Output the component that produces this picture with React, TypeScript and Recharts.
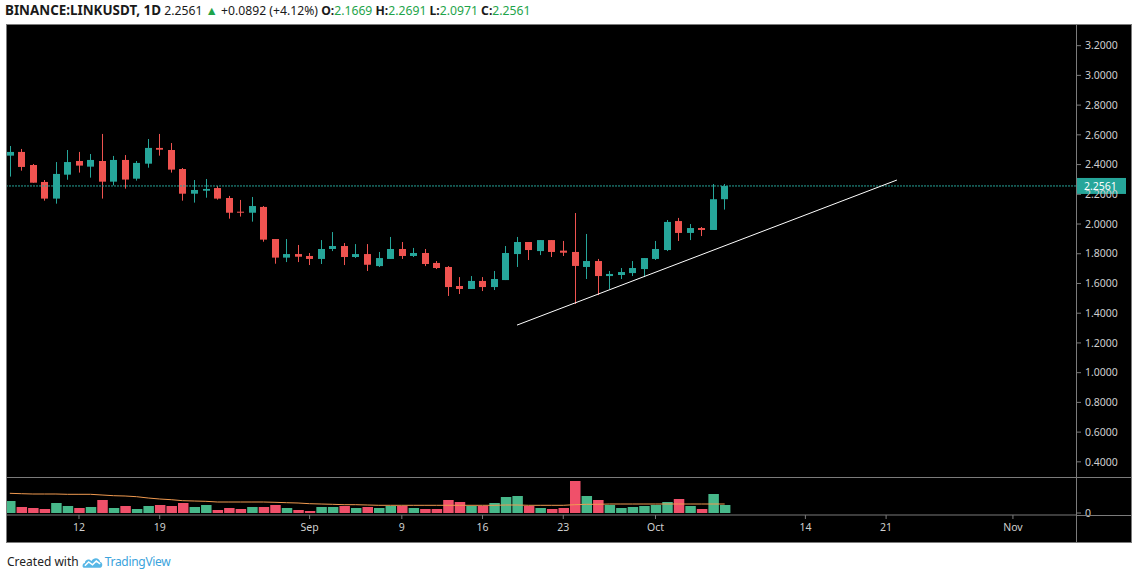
import { ComposedChart, Bar, Line, XAxis, YAxis, ReferenceLine, Cell } from 'recharts';

// daily candles, Aug 6 .. Oct 7 (x = day index)
const dates = [
  'Aug 6', 'Aug 7', 'Aug 8', 'Aug 9', 'Aug 10', 'Aug 11', 'Aug 12', 'Aug 13', 'Aug 14', 'Aug 15',
  'Aug 16', 'Aug 17', 'Aug 18', 'Aug 19', 'Aug 20', 'Aug 21', 'Aug 22', 'Aug 23', 'Aug 24', 'Aug 25',
  'Aug 26', 'Aug 27', 'Aug 28', 'Aug 29', 'Aug 30', 'Aug 31', 'Sep 1', 'Sep 2', 'Sep 3', 'Sep 4',
  'Sep 5', 'Sep 6', 'Sep 7', 'Sep 8', 'Sep 9', 'Sep 10', 'Sep 11', 'Sep 12', 'Sep 13', 'Sep 14',
  'Sep 15', 'Sep 16', 'Sep 17', 'Sep 18', 'Sep 19', 'Sep 20', 'Sep 21', 'Sep 22', 'Sep 23', 'Sep 24',
  'Sep 25', 'Sep 26', 'Sep 27', 'Sep 28', 'Sep 29', 'Sep 30', 'Oct 1', 'Oct 2', 'Oct 3', 'Oct 4',
  'Oct 5', 'Oct 6', 'Oct 7',
];
const opens = [
  2.460, 2.485, 2.397, 2.283, 2.171, 2.332, 2.424, 2.386, 2.424, 2.285,
  2.431, 2.305, 2.406, 2.512, 2.498, 2.370, 2.204, 2.224, 2.242, 2.175,
  2.083, 2.076, 2.115, 1.899, 1.774, 1.798, 1.785, 1.765, 1.832, 1.852,
  1.778, 1.798, 1.717, 1.765, 1.832, 1.785, 1.805, 1.738, 1.711, 1.583,
  1.563, 1.617, 1.576, 1.623, 1.798, 1.879, 1.818, 1.892, 1.821, 1.812,
  1.711, 1.751, 1.650, 1.657, 1.670, 1.697, 1.765, 1.825, 2.020, 1.940,
  1.973, 1.960, 2.1669,
];
const highs = [
  2.525, 2.505, 2.404, 2.296, 2.417, 2.498, 2.485, 2.471, 2.606, 2.458,
  2.464, 2.424, 2.572, 2.606, 2.545, 2.377, 2.296, 2.303, 2.256, 2.189,
  2.162, 2.182, 2.121, 1.899, 1.899, 1.859, 1.805, 1.892, 1.946, 1.872,
  1.865, 1.865, 1.812, 1.913, 1.879, 1.839, 1.832, 1.751, 1.717, 1.643,
  1.650, 1.643, 1.684, 1.852, 1.913, 1.879, 1.892, 1.892, 1.886, 2.074,
  1.933, 1.765, 1.684, 1.704, 1.751, 1.771, 1.886, 2.027, 2.041, 2.000,
  1.980, 2.269, 2.2691,
];
const lows = [
  2.319, 2.359, 2.278, 2.157, 2.137, 2.298, 2.346, 2.312, 2.171, 2.260,
  2.238, 2.292, 2.379, 2.460, 2.346, 2.157, 2.144, 2.177, 2.164, 2.036,
  2.050, 2.016, 1.881, 1.733, 1.744, 1.744, 1.724, 1.731, 1.818, 1.724,
  1.771, 1.684, 1.711, 1.765, 1.765, 1.778, 1.717, 1.697, 1.516, 1.529,
  1.563, 1.549, 1.556, 1.623, 1.711, 1.758, 1.791, 1.778, 1.785, 1.462,
  1.630, 1.522, 1.563, 1.630, 1.650, 1.643, 1.758, 1.818, 1.886, 1.892,
  1.919, 1.960, 2.0971,
];
const closes = [
  2.485, 2.384, 2.278, 2.171, 2.337, 2.417, 2.393, 2.431, 2.285, 2.431,
  2.299, 2.411, 2.512, 2.500, 2.366, 2.204, 2.229, 2.236, 2.171, 2.076,
  2.076, 2.121, 1.895, 1.774, 1.798, 1.780, 1.765, 1.832, 1.852, 1.778,
  1.798, 1.726, 1.771, 1.832, 1.785, 1.805, 1.731, 1.704, 1.576, 1.563,
  1.617, 1.576, 1.630, 1.805, 1.879, 1.825, 1.892, 1.812, 1.807, 1.718,
  1.751, 1.650, 1.664, 1.677, 1.704, 1.771, 1.832, 2.014, 1.940, 1.973,
  1.960, 2.1669, 2.2561,
];
// volume in millions of LINK, and its moving average
const volumes = [
  12, 6, 5, 4, 10, 7, 5, 6, 13, 5,
  7, 4, 7, 8, 7, 10, 6, 8, 3, 5,
  4, 6, 6, 8, 5, 3, 2, 6, 6, 7,
  5, 6, 5, 7, 7, 5, 4, 4, 13, 11,
  7, 7, 10, 16, 17, 7, 5, 4, 5, 32,
  17, 13, 8, 5, 6, 7, 8, 11, 14, 7,
  4, 19, 8,
];
const volumeMA = [
  19.7, 19.3, 19, 19, 19, 18.7, 18.7, 18.7, 18, 17.3,
  17, 16.3, 15, 14, 13.3, 12.3, 12, 11.7, 11, 11,
  11, 11, 11, 10.7, 10.3, 10, 9.3, 9, 8.7, 8.3,
  8.3, 8, 7.7, 7.7, 7.7, 7.7, 7.7, 7.7, 7.7, 7.7,
  7.7, 7.7, 7.7, 8, 8, 7.7, 7.7, 7.7, 7.7, 8.3,
  8.7, 8.7, 9, 9, 9, 9, 9, 9, 9, 9,
  9, 9, 9,
];

const dateTicks = [6, 13, 26, 34, 41, 48, 56, 69, 76, 87];
const dateTickLabels = ['12', '19', 'Sep', '9', '16', '23', 'Oct', '14', '21', 'Nov'];
const priceTicks = [0.4, 0.6, 0.8, 1.0, 1.2, 1.4, 1.6, 1.8, 2.0, 2.2, 2.4, 2.6, 2.8, 3.0, 3.2];
const lastPrice = 2.2561;
const trendFrom = { day: 43.99, price: 1.32 };
const trendTo = { day: 76.94, price: 2.296 };

const UP = '#26a69a';
const DOWN = '#ef5350';
const VOL_UP = '#47b88a';
const VOL_DOWN = '#f0506a';
const GRID = '#7b7b7b';
const TEXT = '#cfcfcf';
const AXIS_FONT = '"Noto Sans", sans-serif';

const data = dates.map((date, i) => ({
  day: i,
  date,
  open: opens[i],
  high: highs[i],
  low: lows[i],
  close: closes[i],
  volume: volumes[i],
  ma: volumeMA[i],
}));

const X_DOMAIN: [number, number] = [-0.243, 92.47];

function Candle(props: any) {
  const { x, y, width, height, payload } = props;
  const { open, close, high, low } = payload;
  const color = close >= open ? UP : DOWN;
  const top = Math.min(y, y + height);
  const span = Math.abs(height);
  const ratio = span / (high - low);
  const bodyTop = top + (high - Math.max(open, close)) * ratio;
  const bodyH = Math.max(1, Math.abs(open - close) * ratio);
  const cx = Math.round(x + width / 2) + 0.5;
  return (
    <g>
      <line x1={cx} x2={cx} y1={top} y2={top + span} stroke={color} strokeWidth={1} />
      <rect x={cx - 3.5} y={bodyTop} width={7} height={bodyH} fill={color} />
    </g>
  );
}

function PriceTag(props: any) {
  const { viewBox } = props;
  const x = viewBox.x + viewBox.width;
  const y = viewBox.y;
  return (
    <g>
      <rect x={x} y={y - 8} width={50} height={16} fill={UP} />
      <text x={x + 8} y={y + 4} fill="#ffffff" fontSize={10.5} fontFamily={AXIS_FONT}>
        {lastPrice.toFixed(4)}
      </text>
    </g>
  );
}

function Header() {
  const green = { color: '#1ea44a' };
  return (
    <div
      style={{
        position: 'absolute',
        left: 5,
        top: 1,
        fontFamily: '"Noto Sans", sans-serif',
        fontSize: 12.2,
        color: '#1a1a1a',
        whiteSpace: 'nowrap',
        lineHeight: '18px',
      }}
    >
      <b style={{ fontSize: 13.4 }}>BINANCE:LINKUSDT, 1D</b> 2.2561{' '}
      <span style={{ ...green, fontSize: 12.5 }}>▲</span> +0.0892 (+4.12%) <b>O:</b>
      <span style={green}>2.1669</span> <b>H:</b>
      <span style={green}>2.2691</span> <b>L:</b>
      <span style={green}>2.0971</span> <b>C:</b>
      <span style={green}>2.2561</span>
    </div>
  );
}

function Footer() {
  return (
    <div
      style={{
        position: 'absolute',
        left: 7,
        top: 553,
        fontFamily: '"Noto Sans", sans-serif',
        fontSize: 12,
        color: '#222',
        display: 'flex',
        alignItems: 'center',
        whiteSpace: 'nowrap',
      }}
    >
      Created with
      <svg width={21} height={14} viewBox="0 0 22 14" style={{ margin: '0 2px 0 3px' }}>
        <path
          d="M2 13 C0 13 0 8 3 8 C3 4 8 3 10 6 C12 2 18 2 19 7 C22 7 22 13 19 13 Z"
          fill="#58b7e6"
        />
        <path d="M3 11 L7 7 L11 10 L15 6 L19 9" stroke="#ffffff" strokeWidth={1.6} fill="none" />
      </svg>
      <span style={{ color: '#3ba3dc', letterSpacing: -0.3 }}>TradingView</span>
    </div>
  );
}

export default function App() {
  const tickStyle = { fill: TEXT, fontSize: 10.5, fontFamily: AXIS_FONT };
  return (
    <div
      style={{
        position: 'fixed',
        left: 0,
        top: 0,
        width: 1135,
        height: 578,
        background: '#ffffff',
        overflow: 'hidden',
      }}
    >
      <Header />
      <div
        style={{
          position: 'absolute',
          left: 6,
          top: 24,
          width: 1126,
          height: 519,
          boxSizing: 'border-box',
          border: `1px solid ${GRID}`,
          background: '#000000',
        }}
      />
      <div style={{ position: 'absolute', left: 7, top: 25 }}>
        <ComposedChart width={1124} height={452} data={data} margin={{ top: 0, right: 0, bottom: 0, left: 0 }}>
          <XAxis dataKey="day" type="number" domain={X_DOMAIN} allowDataOverflow hide />
          <YAxis
            orientation="right"
            width={55}
            domain={[0.298, 3.339]}
            allowDataOverflow
            ticks={priceTicks}
            tickFormatter={(v: number) => v.toFixed(4)}
            axisLine={false}
            tickLine={{ stroke: GRID }}
            tickSize={5}
            tickMargin={4}
            tick={tickStyle}
          />
          <Bar
            dataKey={(d: any) => [d.low, d.high]}
            barSize={7}
            shape={<Candle />}
            isAnimationActive={false}
          />
          <ReferenceLine
            y={lastPrice}
            stroke={UP}
            strokeDasharray="2 1"
            label={<PriceTag />}
          />
          <ReferenceLine
            segment={[
              { x: trendFrom.day, y: trendFrom.price },
              { x: trendTo.day, y: trendTo.price },
            ]}
            stroke="#ffffff"
            strokeWidth={1}
          />
        </ComposedChart>
      </div>
      <div style={{ position: 'absolute', left: 7, top: 477, width: 1124, height: 1, background: GRID }} />
      <div style={{ position: 'absolute', left: 7, top: 478 }}>
        <ComposedChart width={1124} height={64} data={data} margin={{ top: 0, right: 0, bottom: 0, left: 0 }}>
          <XAxis
            dataKey="day"
            type="number"
            domain={X_DOMAIN}
            allowDataOverflow
            ticks={dateTicks}
            tickFormatter={(v: number) => dateTickLabels[dateTicks.indexOf(v)] ?? ''}
            height={27}
            axisLine={{ stroke: GRID }}
            tickLine={{ stroke: GRID }}
            tickSize={4}
            tickMargin={5}
            tick={tickStyle}
          />
          <YAxis
            orientation="right"
            width={55}
            domain={[-2, 35]}
            allowDataOverflow
            ticks={[0]}
            axisLine={false}
            tickLine={{ stroke: GRID }}
            tickSize={5}
            tickMargin={4}
            tick={tickStyle}
          />
          <Bar dataKey="volume" barSize={10.5} isAnimationActive={false}>
            {data.map((d) => (
              <Cell key={d.day} fill={d.close >= d.open ? VOL_UP : VOL_DOWN} />
            ))}
          </Bar>
          <Line
            dataKey="ma"
            type="linear"
            stroke="#f09a50"
            strokeWidth={1}
            dot={false}
            isAnimationActive={false}
          />
        </ComposedChart>
      </div>
      <div style={{ position: 'absolute', left: 1076, top: 515, width: 55, height: 1, background: GRID }} />
      <div style={{ position: 'absolute', left: 1076, top: 25, width: 1, height: 517, background: GRID }} />
      <Footer />
    </div>
  );
}
